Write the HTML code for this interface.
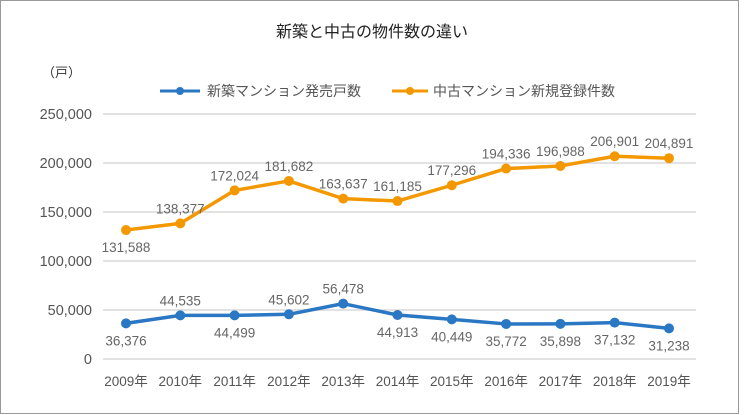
<!DOCTYPE html>
<html><head><meta charset="utf-8"><style>
body{margin:0;background:#fff}
svg{display:block}
text{font-family:"Liberation Sans","Noto Sans CJK JP",sans-serif}
</style></head><body>
<svg id="c" width="744" height="415" xmlns="http://www.w3.org/2000/svg">
<rect x="0.5" y="0.5" width="738" height="413" fill="#fff" stroke="#999"/>
<text x="372" y="37" text-anchor="middle" font-size="16" fill="#222">新築と中古の物件数の違い</text>
<text x="42" y="77" font-size="13" fill="#333">（戸）</text>
<line x1="160" y1="91" x2="200" y2="91" stroke="#2a77c4" stroke-width="3"/><circle cx="180" cy="91" r="4" fill="#2a77c4"/>
<text x="207" y="96" font-size="14" fill="#555">新築マンション発売戸数</text>
<line x1="392" y1="91" x2="428" y2="91" stroke="#f39800" stroke-width="3"/><circle cx="410" cy="91" r="4" fill="#f39800"/>
<text x="433" y="96" font-size="14" fill="#555">中古マンション新規登録件数</text>
<g id="g"></g>
</svg>
<script>
var g=document.getElementById('g'),h='';
function Y(v){return 359-v*0.00098;}
for(var i=0;i<=5;i++){var y=Y(i*50000);h+='<line x1="103" x2="696" y1="'+y+'" y2="'+y+'" stroke="#d8d8d8" stroke-width="1.5"/>';
h+='<text x="92" y="'+(y+5)+'" text-anchor="end" font-size="14.5" fill="#555">'+(i?(i*50)+',000':'0')+'</text>';}
function X(i){return 126+54.3*i;}
for(var i=0;i<11;i++)h+='<text x="'+X(i)+'" y="386" text-anchor="middle" font-size="13.5" fill="#555">'+(2009+i)+'年</text>';
var o=[131588,138377,172024,181682,163637,161185,177296,194336,196988,206901,204891];
var b=[36376,44535,44499,45602,56478,44913,40449,35772,35898,37132,31238];
var bu=[0,1,0,1,1,0,0,0,0,0,0];
function f(n){return n.toLocaleString('en-US');}
function ser(d,c,up){var p=d.map(function(v,i){return X(i)+','+Y(v)}).join(' ');
h+='<polyline points="'+p+'" fill="none" stroke="'+c+'" stroke-width="3.5" stroke-linejoin="round"/>';
d.forEach(function(v,i){h+='<circle cx="'+X(i)+'" cy="'+Y(v)+'" r="5" fill="'+c+'"/>';
var u=up(i);h+='<text x="'+X(i)+'" y="'+(u?Y(v)-10:Y(v)+22)+'" text-anchor="middle" font-size="13.5" fill="#666">'+f(v)+'</text>';});}
ser(o,'#f39800',function(i){return i>0;});
ser(b,'#2a77c4',function(i){return bu[i];});
g.innerHTML=h;
</script>
</body></html>
